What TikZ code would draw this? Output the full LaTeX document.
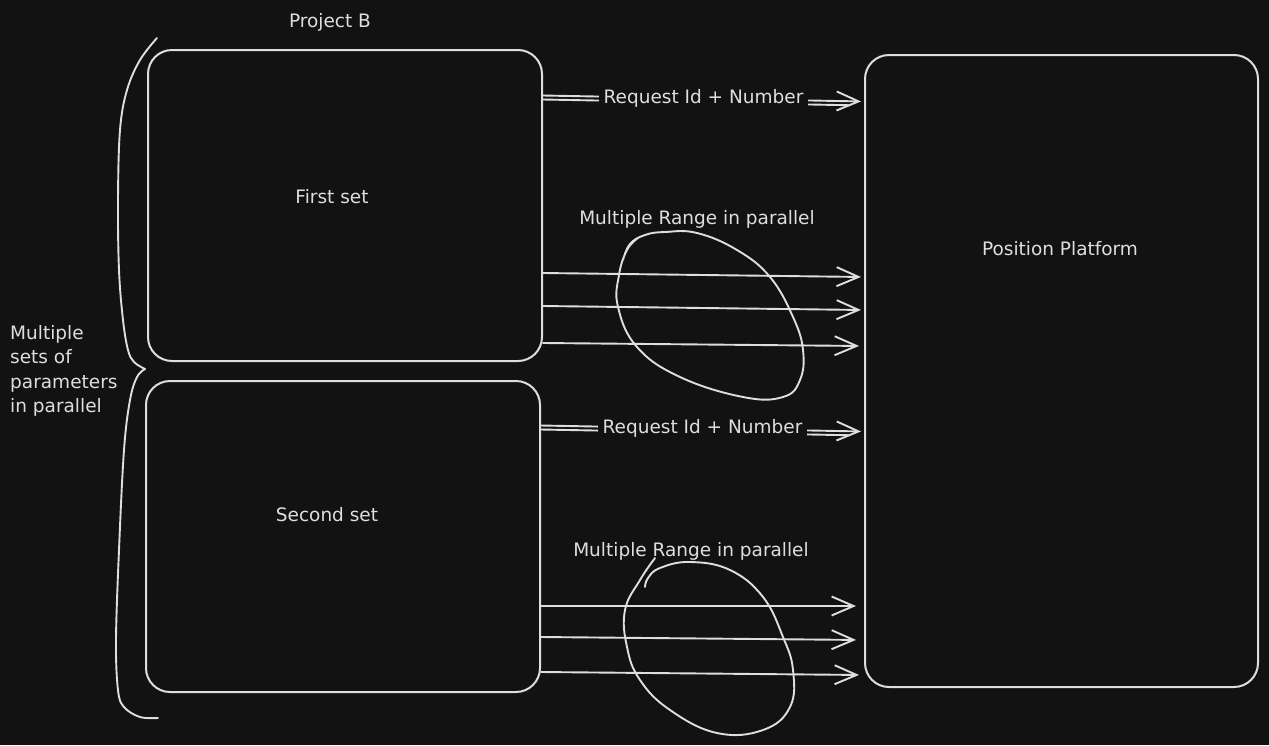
\documentclass[tikz,border=0pt]{standalone}
\usepackage{fontspec}
\setmainfont{DejaVu Sans}
\usetikzlibrary{arrows.meta,calc}
\definecolor{bg}{HTML}{121212}
\definecolor{ink}{HTML}{DEDEDE}
\begin{document}
\begin{tikzpicture}[x=1pt,y=-1pt,
  box/.style={draw=ink,line width=2pt,rounded corners=24pt,inner sep=0pt},
  txt/.style={text=ink,font=\fontsize{18.5}{24.5}\selectfont,inner sep=0pt},
  ln/.style={draw=ink,line width=1.9pt,line cap=round},
  arr/.style={ln,-{Straight Barb[length=22pt,width=19pt,line width=1.9pt]},shorten >=3pt},
  lbl/.style={txt,fill=bg,inner xsep=5pt,inner ysep=4pt},
  blob/.style={ln,line join=round}
]
\fill[bg] (0,0) rectangle (1269,745);
\useasboundingbox (0,0) rectangle (1269,745);

% boxes
\node[box,minimum width=394pt,minimum height=311pt] (A) at (345,205.5) {};
\node[box,minimum width=394pt,minimum height=311pt] (B) at (343,536.5) {};
\node[box,minimum width=393pt,minimum height=632pt] (P) at (1061.5,371) {};

% texts
\node[txt] (pb) at (330,22) {Project B};
\node[txt] (t1) at (332,197) {First set};
\node[txt] (t2) at (327,515) {Second set};
\node[txt] (tp) at (1060,249) {Position Platform};
\node[txt,align=left,anchor=west] (ms) at (10,371) {Multiple\\sets of\\parameters\\in parallel};
\node[txt] (mr1) at (697,219) {Multiple Range in parallel};
\node[txt] (mr2) at (691,551) {Multiple Range in parallel};

% brace
\draw[blob] plot[smooth,tension=0.6] coordinates {(157,38) (140,60) (127,90) (120,130) (118,200) (119,270) (123,320) (128,350) (134,362) (145,369)};
\draw[blob] plot[smooth,tension=0.6] coordinates {(145,369) (137,377) (130,400) (124,450) (119,550) (116,640) (118,690) (124,707) (140,717) (158,718)};

% blobs
\draw[blob] plot[smooth,tension=0.7] coordinates {(623,260) (630,244) (645,235) (665,232) (697,233) (737,250) (770,277) (793,317) (803,350) (800,380) (783,397) (743,397) (680,377) (637,347) (618,307) (619,275) (627,250) (638,238)};
\draw[blob] plot[smooth,tension=0.7] coordinates {(655,558) (640,580) (625,610) (627,647) (640,680) (670,710) (717,733) (763,730) (790,707) (793,670) (783,637) (763,597) (730,570) (690,562) (660,568) (648,578) (645,587)};

% request arrows (sketchy double stroke)
\draw[ln,shorten >=14pt] (A.east |- 0,99.5) -- (P.west |- 0,105.5);
\draw[arr] (A.east |- 0,95.5) -- node[lbl] (r1) {Request Id + Number} (P.west |- 0,101.5);
\draw[ln,shorten >=14pt] (B.east |- 0,429.5) -- (P.west |- 0,435.5);
\draw[arr] (B.east |- 0,425.5) -- node[lbl] (r2) {Request Id + Number} (P.west |- 0,431.5);

% parallel range arrows
\draw[arr] (A.east |- 0,273) -- (P.west |- 0,277);
\draw[arr] (A.east |- 0,306) -- (P.west |- 0,310);
\draw[arr,shorten >=5pt] (A.east |- 0,343) -- (P.west |- 0,346);
\draw[arr,shorten >=8pt] (B.east |- 0,606) -- (P.west |- 0,606);
\draw[arr,shorten >=8pt] (B.east |- 0,637) -- (P.west |- 0,640);
\draw[arr,shorten >=5pt] (B.east |- 0,672) -- (P.west |- 0,675);
\end{tikzpicture}
\end{document}
